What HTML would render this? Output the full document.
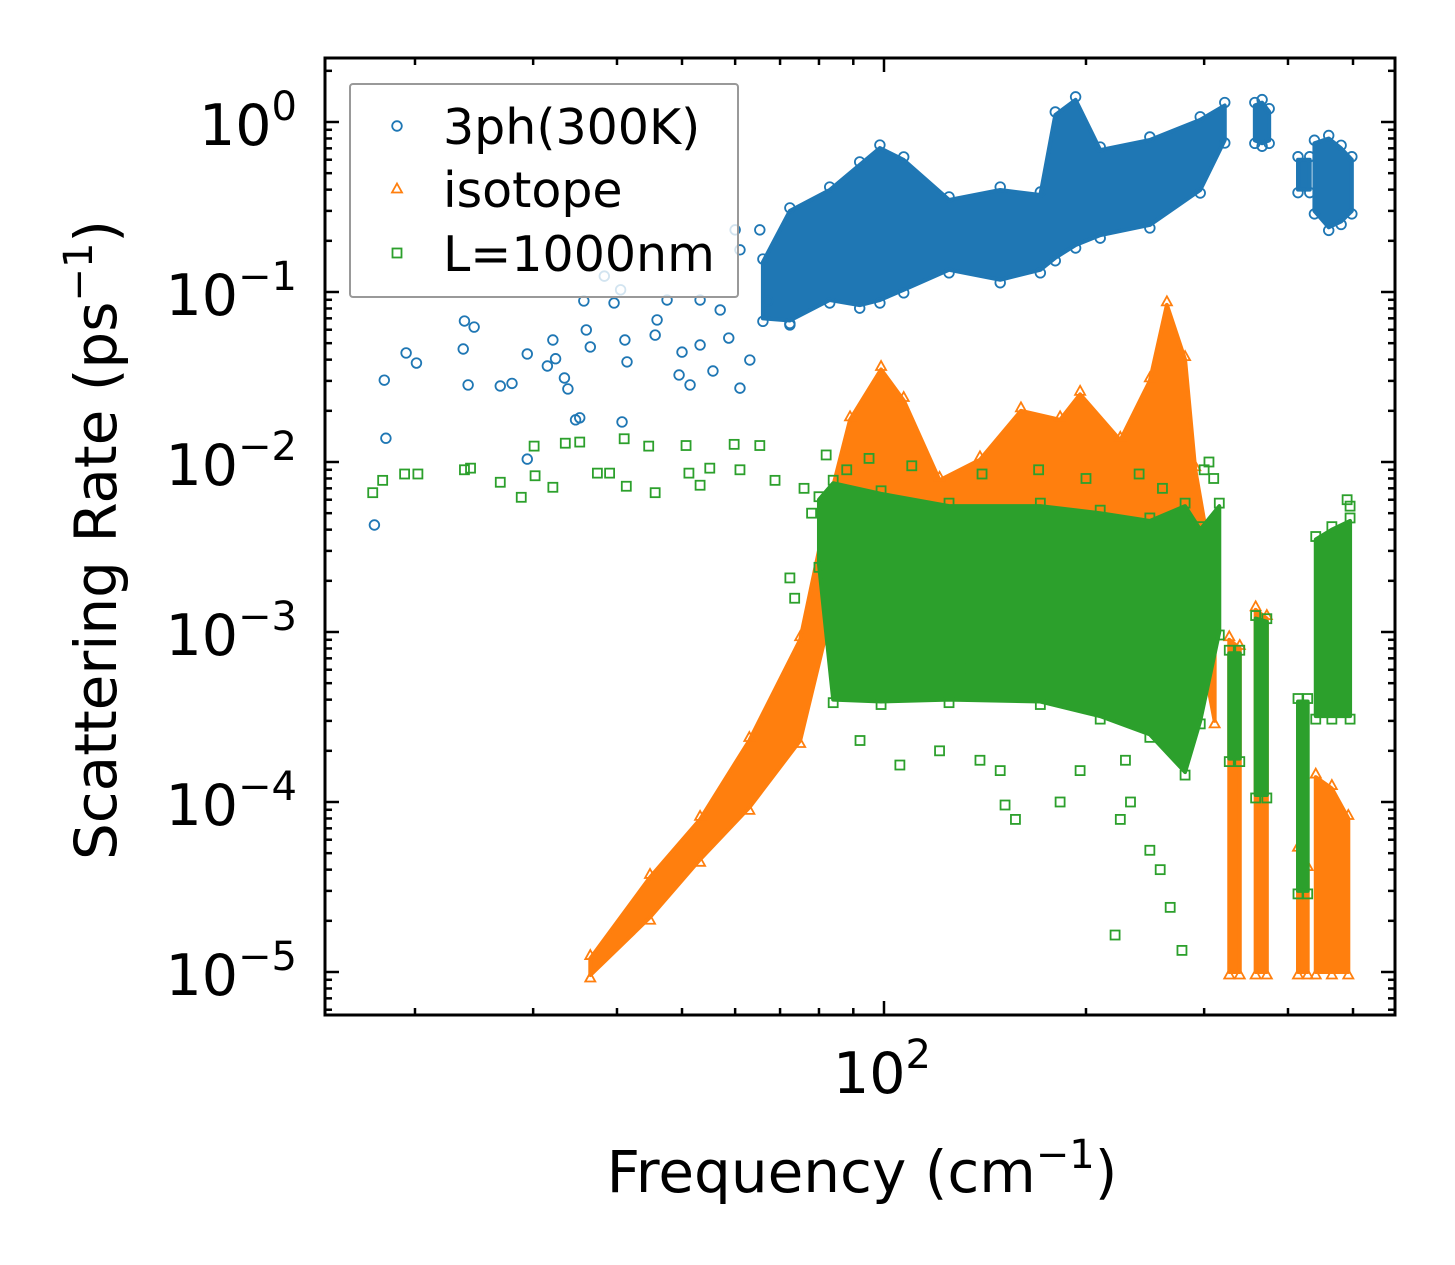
<!DOCTYPE html>
<html><head><meta charset="utf-8"><style>
html,body{margin:0;padding:0;background:#fff}
svg{display:block;font-family:"DejaVu Sans","Liberation Sans",sans-serif}
</style></head><body>
<svg id="chart" width="1455" height="1265" viewBox="0 0 1455 1265" xmlns="http://www.w3.org/2000/svg">
<rect width="1455" height="1265" fill="#fff"/>
<defs><clipPath id="clip"><rect x="325" y="58" width="1070" height="957"/></clipPath></defs>
<g id="data" clip-path="url(#clip)"></g>
<g id="axes"></g>
<g id="legend"></g>
</svg>
<script>
// ---- data ----
const blueSparseFreq=[17.4,18.0,18.1,19.4,20.1,23.6,23.7,24.0,24.5,26.8,27.9,29.4,29.4,31.5,32.1,32.4,33.4,33.8,34.7,35.2,35.7,36.0,36.5,38.3,39.6,40.5,40.7,41.1,41.4,45.6,45.9,47.5,49.5,50.0,51.4,53.2,55.6,58.7,61.0,63.1,67.1,72.4,57.0,53.2,61.0,65.3,60.0];
const blueSparseVal=[0.00426,0.0303,0.0138,0.0438,0.0382,0.0462,0.0675,0.0284,0.0622,0.028,0.029,0.0432,0.0104,0.0367,0.0522,0.0405,0.0312,0.0269,0.0177,0.0182,0.0886,0.0598,0.0475,0.124,0.0862,0.103,0.0172,0.0522,0.0388,0.0558,0.0685,0.0897,0.0325,0.0443,0.0284,0.0488,0.0343,0.0536,0.0272,0.0398,0.0886,0.064,0.0784,0.0897,0.177,0.232,0.232];
const blueBandFreq=[[66,72.4,83,92,98.6,107,125,149,171,180,193,210,249,296,322],[357,366,375],[414,431],[438,460,480,498]];
const blueBandLo=[[0.07,0.068,0.0897,0.0837,0.0897,0.103,0.135,0.118,0.135,0.159,0.189,0.216,0.248,0.398,0.784],[0.78,0.75,0.78],[0.4,0.4],[0.3,0.24,0.26,0.3]];
const blueBandHi=[[0.15,0.3,0.398,0.559,0.703,0.598,0.348,0.398,0.372,1.1,1.35,0.684,0.784,1.03,1.25],[1.25,1.3,1.15],[0.6,0.6],[0.75,0.8,0.7,0.6]];
const isoBandFreq=[[36.5,44.8,53.2,63,75,83,89,99,107,121,139,160,183,196,225,249,264,281,291,311],[327,339],[358,372],[414,428],[440,465,492]];
const isoBandLo=[[9.6e-6,2.1e-5,4.6e-5,9.3e-5,2.3e-4,1.2e-3,2.7e-3,4e-3,4e-3,3e-3,3.3e-3,3.3e-3,3.3e-3,3.3e-3,3.3e-3,3.3e-3,4e-3,2.7e-3,1.2e-3,3e-4],[1e-5,1e-5],[1e-5,1e-5],[1e-5,1e-5],[1e-5,1e-5,1e-5]];
const isoBandHi=[[1.2e-5,3.6e-5,7.9e-5,2.3e-4,9e-4,6e-3,1.77e-2,3.5e-2,2.3e-2,7.8e-3,1.03e-2,2e-2,1.77e-2,2.5e-2,1.34e-2,3e-2,8.4e-2,4e-2,9e-3,2e-3],[9e-4,8e-4],[1.35e-3,1.2e-3],[5.2e-5,4e-5],[1.4e-4,1.2e-4,8e-5]];
const bndBandFreq=[[80,84,99,125,171,210,249,281,296,316],[327,339],[358,372],[414,428],[440,465,495]];
const bndBandLo=[[2.5e-3,4e-4,3.9e-4,4e-4,3.9e-4,3.2e-4,2.5e-4,1.5e-4,3e-4,1e-3],[1.8e-4,1.8e-4],[1.1e-4,1.1e-4],[3e-5,3e-5],[3.2e-4,3.2e-4,3.2e-4]];
const bndBandHi=[[6e-3,7.5e-3,6.5e-3,5.5e-3,5.5e-3,5e-3,4.5e-3,5.5e-3,4e-3,5.5e-3],[7.5e-4,7.5e-4],[1.2e-3,1.15e-3],[3.9e-4,3.9e-4],[3.5e-3,4e-3,4.5e-3]];
const bndSparseFreq=[17.3,17.9,19.3,20.2,23.7,24.2,26.8,28.8,30.1,30.2,32.1,33.5,35.2,37.4,39.0,41.0,41.3,44.6,45.6,50.7,51.2,53.2,55.0,59.8,61.0,65.3,68.8,72.4,73.6,92.1,105.6,121,139,149,151.5,157,183,196,221,229,233,258,267,278,249,225,130,76,78,82,88,95,110,140,170,200,240,260,300,305,310,490,495];
const bndSparseVal=[6.6e-3,7.8e-3,8.5e-3,8.5e-3,9.0e-3,9.2e-3,7.6e-3,6.2e-3,1.24e-2,8.3e-3,7.1e-3,1.29e-2,1.31e-2,8.6e-3,8.6e-3,1.37e-2,7.2e-3,1.24e-2,6.6e-3,1.25e-2,8.6e-3,7.3e-3,9.2e-3,1.27e-2,9.0e-3,1.25e-2,7.8e-3,2.08e-3,1.58e-3,2.3e-4,1.65e-4,2.0e-4,1.76e-4,1.53e-4,9.6e-5,7.9e-5,1.0e-4,1.53e-4,1.65e-5,1.76e-4,1.0e-4,4e-5,2.4e-5,1.34e-5,5.2e-5,7.9e-5,6.1e-4,7e-3,5e-3,1.1e-2,9e-3,1.05e-2,9.5e-3,8.5e-3,9e-3,8e-3,8.5e-3,7e-3,9e-3,1e-2,8e-3,6e-3,5.5e-3];
const yTickExp=[0,-1,-2,-3,-4,-5];
const xTickLabels=["2"];
// ---- scales ----
const NS="http://www.w3.org/2000/svg";
const X0=884,DX=671,Y0=122,DY=170;
function xs(f){return X0+(Math.log10(f)-2)*DX;}
function ys(v){return Y0-Math.log10(v)*DY;}
function mk(tag,attrs,parent){const e=document.createElementNS(NS,tag);for(const k in attrs)e.setAttribute(k,attrs[k]);parent.appendChild(e);return e;}
const C={b:"#1f77b4",o:"#ff7f0e",g:"#2ca02c"};
const data=document.getElementById('data');
function marker(kind,x,y,col,parent){
  let e;
  if(kind==='c'){e=mk('circle',{cx:x,cy:y,r:4.8,fill:'none',stroke:col,'stroke-width':1.8},parent);}
  else if(kind==='t'){e=mk('polygon',{points:`${x},${y-5.5} ${x+5},${y+3.5} ${x-5},${y+3.5}`,fill:'none',stroke:col,'stroke-width':1.8},parent);}
  else {e=mk('rect',{x:x-4.5,y:y-4.5,width:9,height:9,fill:'none',stroke:col,'stroke-width':1.8},parent);}
  return e;
}
function bands(F,L,H,col,kind,name){
  for(let s=0;s<F.length;s++){
    const g=mk('g',{},data);
    
    
    let pts=[];
    const f=F[s];
    for(let i=0;i<f.length;i++)pts.push(xs(f[i])+','+ys(H[s][i]));
    for(let i=f.length-1;i>=0;i--)pts.push(xs(f[i])+','+ys(L[s][i]));
    const p=mk('polygon',{points:pts.join(' '),fill:col,stroke:col,'stroke-width':4,'stroke-linejoin':'round'},g);
    
    
    for(let i=0;i<f.length;i++){marker(kind,xs(f[i]),ys(H[s][i])-3,col,g);marker(kind,xs(f[i]),ys(L[s][i])+3,col,g);}
  }
}
function sparse(F,V,col,kind,name){
  const g=mk('g',{},data);
  
  
  for(let i=0;i<F.length;i++){const m=marker(kind,xs(F[i]),ys(V[i]),col,g);
    
    }
}
bands(blueBandFreq,blueBandLo,blueBandHi,C.b,'c','3ph');
sparse(blueSparseFreq,blueSparseVal,C.b,'c','3ph');
bands(isoBandFreq,isoBandLo,isoBandHi,C.o,'t','isotope');
bands(bndBandFreq,bndBandLo,bndBandHi,C.g,'s','boundary');
sparse(bndSparseFreq,bndSparseVal,C.g,'s','boundary');
// ---- axes ----
const ax=document.getElementById('axes');
const L=325,R=1395,T=58,B=1015;
const fr=mk('rect',{x:L,y:T,width:R-L,height:B-T,fill:'none',stroke:'#000','stroke-width':3},ax);


function tick(x1,y1,x2,y2){mk('line',{x1,y1,x2,y2,stroke:'#000','stroke-width':2.5},ax);}
for(let e=-6;e<=0;e++){for(let k=1;k<=9;k++){const y=ys(k*Math.pow(10,e));if(y<T||y>B)continue;const len=k===1?14:7;tick(L,y,L+len,y);tick(R,y,R-len,y);}}
for(let e=1;e<=2;e++){for(let k=1;k<=9;k++){const x=xs(k*Math.pow(10,e));if(x<L||x>R)continue;const len=k===1?14:7;tick(x,B,x,B-len);tick(x,T,x,T+len);}}
yTickExp.forEach(e=>{const t=mk('text',{x:297,y:ys(Math.pow(10,e))+23,'text-anchor':'end','font-size':57},ax);
  
  
  t.innerHTML='10<tspan dy="-25" font-size="40">'+(e<0?'\u2212'+(-e):e)+'</tspan>';});
xTickLabels.forEach(s=>{const t=mk('text',{x:X0-2,y:1093,'text-anchor':'middle','font-size':57},ax);
  
  
  t.innerHTML='10<tspan dy="-25" font-size="40">'+s+'</tspan>';});
const xl=mk('text',{x:862,y:1192,'text-anchor':'middle','font-size':58},ax);


xl.innerHTML='Frequency (cm<tspan dy="-24" font-size="40">\u22121</tspan><tspan dy="24">)</tspan>';
const yl=mk('text',{x:0,y:0,'text-anchor':'middle','font-size':58,transform:'translate(116,540) rotate(-90)'},ax);


yl.innerHTML='Scattering Rate (ps<tspan dy="-24" font-size="40">\u22121</tspan><tspan dy="24">)</tspan>';
// ---- legend ----
const lg=document.getElementById('legend');
const lb=mk('rect',{x:350,y:84,width:388,height:213,rx:3,fill:'rgba(255,255,255,0.8)',stroke:'#999','stroke-width':2},lg);


const entries=[['3ph(300K)',C.b,'c',126],['isotope',C.o,'t',189],['L=1000nm',C.g,'s',253]];
entries.forEach(en=>{const g=mk('g',{},lg);
  
  
  marker(en[2],397,en[3],en[1],g);
  const t=mk('text',{x:443,y:en[3]+18,'font-size':49},g);t.textContent=en[0];});
</script>
</body></html>
